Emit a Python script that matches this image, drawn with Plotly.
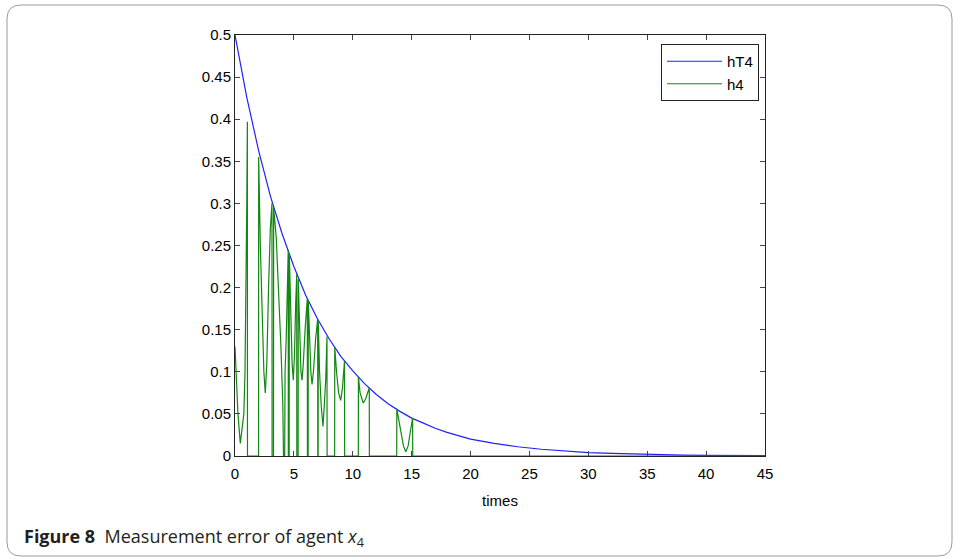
import plotly.graph_objects as go

# ---- data ----
hT4_t = [0, 1, 2, 3, 4, 5, 6, 7, 8, 9, 10, 11, 12, 13, 14, 15, 16, 17, 18, 19, 20,
         22, 24, 26, 28, 30, 32, 34, 36, 38, 40, 42, 45]
hT4_v = [0.500, 0.426, 0.363, 0.309, 0.264, 0.225, 0.191, 0.163, 0.139, 0.118, 0.101,
         0.086, 0.073, 0.062, 0.053, 0.045, 0.039, 0.033, 0.028, 0.024, 0.020,
         0.015, 0.011, 0.008, 0.0057, 0.0041, 0.003, 0.0022, 0.0016, 0.0011, 0.0008,
         0.0006, 0.0004]

h4_t = [0.00, 0.10, 0.25, 0.45, 0.60, 0.75, 0.85, 0.95, 1.00, 1.05, 1.06,
        2.00, 2.01, 2.15, 2.30, 2.45, 2.57, 2.70, 2.85, 3.00, 3.14, 3.15,
        3.27, 3.28, 3.50, 3.70, 3.90, 4.06, 4.12, 4.22, 4.25, 4.35, 4.45, 4.52, 4.53,
        4.60, 4.61, 4.72, 4.85, 4.95, 5.05, 5.15, 5.24, 5.25,
        5.36, 5.37, 5.48, 5.60, 5.69, 5.80, 5.95, 6.14, 6.15,
        6.21, 6.22, 6.32, 6.44, 6.54, 6.66, 6.85, 7.02, 7.03,
        7.06, 7.07, 7.18, 7.32, 7.47, 7.58, 7.70, 7.81, 7.82,
        8.46, 8.47, 8.62, 8.80, 8.97, 9.12, 9.30, 9.31,
        10.47, 10.48, 10.62, 10.89, 11.10, 11.40, 11.41,
        13.73, 13.74, 14.00, 14.30, 14.50, 14.70, 14.90, 15.08, 15.09,
        45.0]
h4_v = [0.130, 0.095, 0.050, 0.015, 0.030, 0.050, 0.100, 0.200, 0.300, 0.397, 0.0,
        0.0, 0.355, 0.250, 0.160, 0.100, 0.075, 0.110, 0.200, 0.270, 0.300, 0.0,
        0.0, 0.295, 0.260, 0.200, 0.130, 0.060, 0.0, 0.0, 0.100, 0.140, 0.200, 0.245, 0.0,
        0.0, 0.240, 0.180, 0.110, 0.090, 0.120, 0.180, 0.216, 0.0,
        0.0, 0.210, 0.150, 0.100, 0.090, 0.110, 0.150, 0.187, 0.0,
        0.0, 0.185, 0.140, 0.100, 0.085, 0.100, 0.140, 0.163, 0.0,
        0.0, 0.160, 0.100, 0.060, 0.035, 0.060, 0.090, 0.142, 0.0,
        0.0, 0.129, 0.100, 0.075, 0.066, 0.080, 0.113, 0.0,
        0.0, 0.094, 0.075, 0.063, 0.068, 0.081, 0.0,
        0.0, 0.056, 0.035, 0.012, 0.005, 0.012, 0.030, 0.045, 0.0,
        0.0]

x_ticks = [0, 5, 10, 15, 20, 25, 30, 35, 40, 45]
y_ticks = [0, 0.05, 0.1, 0.15, 0.2, 0.25, 0.3, 0.35, 0.4, 0.45, 0.5]
y_tick_text = ["0", "0.05", "0.1", "0.15", "0.2", "0.25", "0.3", "0.35", "0.4", "0.45", "0.5"]

W, H = 955, 559
L, R, T, B = 235, 765, 35, 456


def px(x):
    return (x - L) / (R - L)


def py(y):
    return (B - y) / (B - T)


fig = go.Figure()
fig.add_trace(go.Scatter(x=hT4_t, y=hT4_v, mode="lines", name="hT4",
                         line=dict(color="#2020FF", width=1.2)))
fig.add_trace(go.Scatter(x=h4_t, y=h4_v, mode="lines", name="h4",
                         line=dict(color="#118811", width=1.2)))

axis_font = dict(family="Liberation Sans, Arial, sans-serif", size=15, color="#000000")

fig.update_xaxes(range=[0, 45], tickvals=x_ticks, ticks="inside", ticklen=5,
                 showline=True, linecolor="#222222", linewidth=1, mirror="ticks",
                 showgrid=False, zeroline=False, tickfont=axis_font,
                 ticklabelstandoff=4,
                 title=dict(text="times", font=axis_font, standoff=14))
fig.update_yaxes(range=[0, 0.5], tickvals=y_ticks, ticktext=y_tick_text, ticks="inside",
                 ticklen=5, showline=True, linecolor="#222222", linewidth=1,
                 mirror="ticks", showgrid=False, zeroline=False, tickfont=axis_font)

# rounded frame around the whole figure
fx0, fx1, fy0, fy1, rr = 7, 952, 5, 556, 14
path = (f"M {px(fx0 + rr)} {py(fy0)} L {px(fx1 - rr)} {py(fy0)} "
        f"Q {px(fx1)} {py(fy0)} {px(fx1)} {py(fy0 + rr)} "
        f"L {px(fx1)} {py(fy1 - rr)} Q {px(fx1)} {py(fy1)} {px(fx1 - rr)} {py(fy1)} "
        f"L {px(fx0 + rr)} {py(fy1)} Q {px(fx0)} {py(fy1)} {px(fx0)} {py(fy1 - rr)} "
        f"L {px(fx0)} {py(fy0 + rr)} Q {px(fx0)} {py(fy0)} {px(fx0 + rr)} {py(fy0)} Z")
fig.add_shape(type="path", path=path, xref="paper", yref="paper",
              line=dict(color="#9a9a9a", width=1))

fig.add_annotation(x=px(22), y=py(537), xref="paper", yref="paper",
                   xanchor="left", yanchor="middle", showarrow=False,
                   text="<b>Figure 8</b>  Measurement error of agent <i>x</i><sub>4</sub>",
                   font=dict(family="Open Sans, Noto Sans, sans-serif", size=18,
                             color="#231f20"))

fig.update_layout(
    width=W, height=H,
    margin=dict(l=L, r=W - R, t=T, b=H - B, pad=0),
    paper_bgcolor="white", plot_bgcolor="white",
    showlegend=True,
    legend=dict(x=px(661), y=py(44), xanchor="left", yanchor="top",
                bordercolor="#222222", borderwidth=1, bgcolor="white",
                font=dict(family="Liberation Sans, Arial, sans-serif", size=15, color="#000"),
                tracegroupgap=0, itemwidth=55),
)

fig.write_html("out.html", config={"displayModeBar": False},
               post_script="document.body.style.margin='0';document.body.style.overflow='hidden';")
